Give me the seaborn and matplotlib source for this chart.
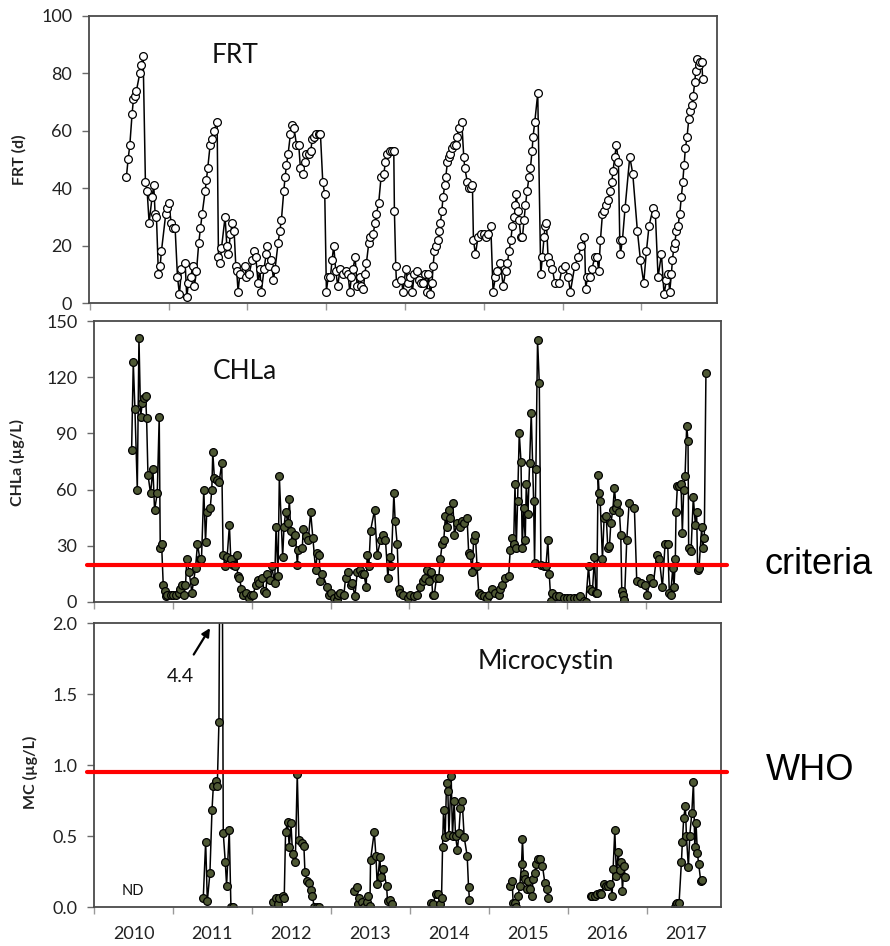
import numpy as np
import pandas as pd
import matplotlib
matplotlib.use("Agg")
import matplotlib.pyplot as plt
import seaborn as sns

# ---------------- data (decimal year, value) ----------------
frt_year = [
    2010.465, 2010.486, 2010.508, 2010.537, 2010.554, 2010.571, 2010.592, 2010.635, 2010.656, 2010.677,
    2010.706, 2010.728, 2010.753, 2010.791, 2010.812, 2010.829, 2010.846, 2010.871, 2010.893, 2010.909,
    2010.964, 2010.986, 2011.003, 2011.032, 2011.058, 2011.083, 2011.113, 2011.138, 2011.163, 2011.210,
    2011.231, 2011.252, 2011.282, 2011.307, 2011.328, 2011.354, 2011.383, 2011.404, 2011.426, 2011.464,
    2011.481, 2011.497, 2011.527, 2011.552, 2011.574, 2011.616, 2011.633, 2011.654, 2011.671, 2011.717,
    2011.739, 2011.756, 2011.785, 2011.810, 2011.832, 2011.853, 2011.865, 2011.882, 2011.904, 2011.967,
    2011.988, 2012.022, 2012.060, 2012.081, 2012.107, 2012.136, 2012.157, 2012.178, 2012.212, 2012.238,
    2012.255, 2012.276, 2012.305, 2012.331, 2012.352, 2012.390, 2012.411, 2012.432, 2012.462, 2012.479,
    2012.496, 2012.517, 2012.547, 2012.572, 2012.593, 2012.623, 2012.652, 2012.673, 2012.707, 2012.728,
    2012.750, 2012.779, 2012.805, 2012.822, 2012.851, 2012.876, 2012.906, 2012.927, 2012.957, 2012.982,
    2013.003, 2013.025, 2013.054, 2013.075, 2013.096, 2013.122, 2013.147, 2013.177, 2013.215, 2013.257,
    2013.278, 2013.299, 2013.321, 2013.342, 2013.367, 2013.393, 2013.426, 2013.448, 2013.473, 2013.490,
    2013.511, 2013.541, 2013.562, 2013.596, 2013.621, 2013.638, 2013.667, 2013.697, 2013.731, 2013.752,
    2013.777, 2013.807, 2013.837, 2013.858, 2013.866, 2013.883, 2013.892, 2013.955, 2013.976, 2014.010,
    2014.040, 2014.069, 2014.095, 2014.116, 2014.154, 2014.179, 2014.205, 2014.230, 2014.260, 2014.277,
    2014.298, 2014.323, 2014.344,
    2014.357, 2014.374, 2014.400, 2014.420, 2014.433, 2014.450, 2014.467, 2014.484, 2014.505, 2014.518,
    2014.539, 2014.560, 2014.577, 2014.598, 2014.619, 2014.645, 2014.662, 2014.683, 2014.721, 2014.746,
    2014.759, 2014.793, 2014.814, 2014.835, 2014.856, 2014.869, 2014.894, 2014.928, 2014.970, 2015.004,
    2015.034, 2015.059, 2015.089, 2015.118, 2015.148, 2015.173, 2015.212, 2015.245, 2015.279, 2015.300,
    2015.321, 2015.343, 2015.364, 2015.385, 2015.402, 2015.414, 2015.431, 2015.448, 2015.470, 2015.491,
    2015.512, 2015.529, 2015.550, 2015.575, 2015.592, 2015.613, 2015.626, 2015.647, 2015.685, 2015.723,
    2015.744, 2015.766, 2015.778, 2015.795, 2015.816, 2015.846, 2015.871, 2015.901, 2015.956, 2015.994,
    2016.028, 2016.070, 2016.100, 2016.155, 2016.197, 2016.239, 2016.278, 2016.294, 2016.316, 2016.345,
    2016.374, 2016.409, 2016.438, 2016.459, 2016.481, 2016.506, 2016.531, 2016.552, 2016.578, 2016.603,
    2016.624, 2016.641, 2016.662, 2016.684, 2016.709, 2016.726, 2016.734, 2016.760, 2016.793, 2016.853,
    2016.891, 2016.950, 2016.988, 2017.030, 2017.064, 2017.098, 2017.149, 2017.178, 2017.212, 2017.255,
    2017.288, 2017.318, 2017.339, 2017.360, 2017.381, 2017.394, 2017.411, 2017.424, 2017.445, 2017.466,
    2017.487, 2017.508, 2017.525, 2017.542, 2017.559, 2017.580, 2017.602, 2017.619, 2017.640, 2017.657,
    2017.678, 2017.690, 2017.712, 2017.728, 2017.750, 2017.766, 2017.779,
]
frt_days = [
    44, 50, 55, 66, 71, 72, 74, 80, 83, 86,
    42, 39, 28, 37, 41, 31, 30, 10, 13, 18,
    31, 33, 35, 28, 26, 26, 9, 3, 12, 14,
    2, 7, 9, 13, 6, 11, 21, 26, 31, 39,
    43, 47, 55, 57, 60, 63, 16, 14, 19, 30,
    20, 17, 24, 28, 25, 13, 11, 4, 10, 13,
    9, 10, 15, 18, 16, 7, 12, 4, 12, 17,
    20, 13, 15, 8, 12, 21, 25, 29, 39, 44,
    48, 52, 59, 62, 61, 55, 55, 47, 45, 49,
    52, 52, 53, 57, 58, 59, 59, 59, 42, 38,
    4, 9, 9, 15, 20, 11, 6, 12, 10, 11,
    10, 4, 9, 12, 16, 6, 9, 6, 5, 10,
    14, 21, 23, 24, 28, 31, 35, 44, 45, 49,
    52, 53, 53, 53, 32, 13, 7, 8, 4, 12,
    7, 9, 4, 10, 11, 8, 7, 7, 10, 4,
    10, 3, 7,
    13, 18, 20, 22, 25, 28, 32, 37, 41, 44,
    49, 51, 52, 54, 55, 55, 58, 61, 63, 51,
    47, 42, 40, 40, 41, 22, 17, 23, 24, 24,
    23, 24, 27, 4, 9, 11, 14, 6, 11, 14,
    18, 22, 27, 30, 34, 38, 32, 29, 23, 23,
    29, 34, 39, 44, 47, 53, 58, 63, 73, 10,
    16, 23, 27, 28, 16, 14, 12, 7, 7, 12,
    13, 9, 4, 13, 16, 20, 23, 5, 9, 9,
    12, 16, 16, 11, 22, 31, 32, 34, 36, 39,
    42, 46, 51, 55, 49, 22, 17, 22, 33, 51,
    45, 25, 15, 7, 18, 27, 33, 31, 9, 17,
    3, 8, 10, 4, 10, 15, 19, 21, 25, 27,
    31, 37, 42, 48, 54, 58, 64, 67, 69, 72,
    77, 81, 85, 83, 84, 84, 78,
]

chla_year = [
    2010.477, 2010.498, 2010.519, 2010.549, 2010.570, 2010.591, 2010.612, 2010.637, 2010.654, 2010.667,
    2010.684, 2010.717, 2010.747, 2010.768, 2010.802, 2010.827, 2010.840, 2010.857, 2010.878, 2010.895,
    2010.911, 2010.928, 2010.975, 2011.008, 2011.038, 2011.072, 2011.093, 2011.114, 2011.143, 2011.160,
    2011.177, 2011.207, 2011.241, 2011.262, 2011.287, 2011.312, 2011.342, 2011.363, 2011.392, 2011.414,
    2011.430, 2011.473, 2011.494, 2011.506, 2011.527, 2011.557, 2011.586, 2011.620, 2011.637, 2011.662,
    2011.688, 2011.717, 2011.734, 2011.759, 2011.789, 2011.814, 2011.820, 2011.844, 2011.869, 2011.890,
    2011.924, 2011.966, 2011.987, 2012.017, 2012.051, 2012.080, 2012.097, 2012.131, 2012.156, 2012.177,
    2012.198, 2012.232, 2012.253, 2012.291, 2012.308, 2012.333, 2012.350, 2012.392, 2012.409, 2012.430,
    2012.460, 2012.477, 2012.494, 2012.515, 2012.553, 2012.578, 2012.591, 2012.641, 2012.654, 2012.688,
    2012.717, 2012.747, 2012.776, 2012.810, 2012.831, 2012.857, 2012.866, 2012.895, 2012.958, 2012.979,
    2013.000, 2013.042, 2013.084, 2013.097, 2013.118, 2013.169, 2013.190, 2013.224, 2013.253, 2013.274,
    2013.308, 2013.338, 2013.371, 2013.401, 2013.422, 2013.451, 2013.464, 2013.485, 2013.506, 2013.557,
    2013.591, 2013.633, 2013.667, 2013.696, 2013.726, 2013.747, 2013.768, 2013.802, 2013.819, 2013.844,
    2013.865, 2013.886, 2013.916, 2013.979, 2014.013, 2014.055, 2014.097, 2014.135, 2014.173, 2014.203,
    2014.224, 2014.245, 2014.274, 2014.295, 2014.316, 2014.342, 2014.371, 2014.392, 2014.414, 2014.435,
    2014.456, 2014.477, 2014.498,
    2014.519, 2014.549, 2014.570, 2014.603, 2014.637, 2014.667, 2014.688, 2014.730, 2014.751, 2014.772,
    2014.793, 2014.814, 2014.835, 2014.857, 2014.878, 2014.907, 2014.941, 2014.983, 2015.004, 2015.046,
    2015.089, 2015.131, 2015.152, 2015.173, 2015.215, 2015.257, 2015.278, 2015.300, 2015.321, 2015.338,
    2015.354, 2015.371, 2015.392, 2015.414, 2015.430, 2015.447, 2015.468, 2015.481, 2015.502, 2015.523,
    2015.544, 2015.574, 2015.586, 2015.603, 2015.624, 2015.646, 2015.667, 2015.700, 2015.730, 2015.755,
    2015.772, 2015.793, 2015.810, 2015.852, 2015.899, 2015.954, 2015.996, 2016.038, 2016.080, 2016.122,
    2016.165, 2016.207, 2016.236, 2016.270, 2016.291, 2016.320, 2016.346, 2016.363, 2016.375, 2016.392,
    2016.405, 2016.418, 2016.447, 2016.468, 2016.494, 2016.515, 2016.536, 2016.553, 2016.578, 2016.599,
    2016.620, 2016.637, 2016.662, 2016.679, 2016.692, 2016.713, 2016.726, 2016.755, 2016.785, 2016.852,
    2016.882, 2016.937, 2016.987, 2017.016, 2017.051, 2017.093, 2017.135, 2017.168, 2017.207, 2017.241,
    2017.274, 2017.295, 2017.312, 2017.338, 2017.354, 2017.371, 2017.380, 2017.397, 2017.422, 2017.443,
    2017.460, 2017.477, 2017.494, 2017.515, 2017.532, 2017.540, 2017.570, 2017.599, 2017.625, 2017.641,
    2017.654, 2017.671, 2017.705, 2017.717, 2017.738, 2017.759,
]
chla_ugl = [
    81, 128, 103, 60, 141, 99, 106, 109, 110, 98,
    68, 58, 71, 49, 58, 99, 29, 31, 9, 6,
    3, 4, 4, 4, 4, 5, 7, 9, 4, 9,
    23, 16, 5, 11, 18, 31, 23, 23, 60, 32,
    48, 50, 60, 80, 66, 65, 64, 74, 25, 19,
    24, 41, 23, 20, 19, 25, 14, 13, 7, 4,
    5, 2, 4, 4, 9, 12, 10, 13, 6, 5,
    15, 12, 19, 10, 40, 14, 67, 24, 40, 48,
    42, 55, 38, 32, 36, 20, 28, 29, 39, 35,
    33, 48, 34, 17, 26, 25, 11, 15, 8, 4,
    5, 2, 1, 4, 5, 4, 13, 16, 9, 10,
    3, 16, 17, 15, 15, 8, 25, 19, 38, 49,
    25, 33, 36, 33, 13, 24, 19, 58, 43, 31,
    7, 5, 4, 2, 4, 3, 4, 8, 11, 13,
    17, 11, 16, 4, 4, 13, 13, 23, 31, 33,
    46, 40, 49,
    45, 53, 36, 42, 40, 43, 42, 45, 26, 25,
    16, 33, 36, 19, 5, 4, 3, 2, 4, 7,
    5, 4, 7, 9, 13, 14, 28, 34, 31, 63,
    29, 54, 90, 75, 29, 50, 33, 63, 47, 74,
    101, 54, 21, 71, 140, 117, 20, 19, 19, 33,
    15, 0.4, 5, 3, 3, 2, 2, 2, 2, 2,
    3, 0.4, 0, 19, 7, 6, 24, 5, 5, 68,
    58, 54, 23, 45, 46, 29, 30, 42, 49, 61,
    50, 53, 48, 36, 6, 4, 1, 33, 53, 50,
    11, 10, 9, 4, 13, 10, 25, 23, 8, 31,
    31, 5, 4, 18, 8, 23, 48, 62, 62, 63,
    37, 60, 67, 94, 86, 29, 27, 56, 41, 48,
    17, 18, 40, 29, 34, 122,
]

mc_year = [
    2011.384, 2011.414, 2011.435, 2011.468, 2011.494, 2011.511, 2011.540, 2011.561, 2011.582, 2011.612,
    2011.637, 2011.662, 2011.679, 2011.713, 2011.734, 2011.764,
    2012.270, 2012.300, 2012.325, 2012.346, 2012.388, 2012.409, 2012.426, 2012.451, 2012.473, 2012.494,
    2012.515, 2012.549, 2012.574, 2012.595, 2012.629, 2012.658, 2012.671, 2012.700, 2012.722, 2012.743,
    2012.764, 2012.789, 2012.819, 2012.848,
    2013.295, 2013.325, 2013.338, 2013.354, 2013.388, 2013.418, 2013.451, 2013.473, 2013.494, 2013.502,
    2013.549, 2013.570, 2013.586, 2013.620, 2013.633, 2013.662, 2013.705, 2013.717, 2013.747, 2013.768,
    2014.266, 2014.295, 2014.325, 2014.359, 2014.380, 2014.401, 2014.414, 2014.426, 2014.447, 2014.464,
    2014.481, 2014.494, 2014.523, 2014.540, 2014.561, 2014.578, 2014.603, 2014.620, 2014.641, 2014.662,
    2014.688, 2014.726, 2014.743, 2014.755,
    2015.274, 2015.295, 2015.308, 2015.329, 2015.350, 2015.371, 2015.392, 2015.414, 2015.426, 2015.443,
    2015.464, 2015.485, 2015.502, 2015.519, 2015.544, 2015.561, 2015.582, 2015.603, 2015.624, 2015.646,
    2015.679, 2015.709, 2015.734, 2015.751,
    2016.291, 2016.312, 2016.342, 2016.371, 2016.405, 2016.426, 2016.456, 2016.490, 2016.510, 2016.540,
    2016.561, 2016.574, 2016.595, 2016.616, 2016.637, 2016.658, 2016.679, 2016.692, 2016.709, 2016.730,
    2017.354, 2017.367, 2017.388, 2017.409, 2017.439, 2017.451, 2017.468, 2017.489, 2017.502, 2017.527,
    2017.544, 2017.570, 2017.591, 2017.608, 2017.624, 2017.641, 2017.658, 2017.684, 2017.696,
]
mc_ugl = [
    0.066, 0.46, 0.04, 0.24, 0.68, 0.85, 0.89, 0.85, 1.30, 4.4,
    0.52, 0.32, 0.15, 0.54, 0.0, 0.0,
    0.035, 0.06, 0.02, 0.066, 0.08, 0.066, 0.53, 0.60, 0.42, 0.59,
    0.37, 0.32, 0.94, 0.47, 0.45, 0.43, 0.25, 0.18, 0.17, 0.12,
    0.08, 0.0, 0.0, 0.0,
    0.11, 0.14, 0.02, 0.06, 0.035, 0.0, 0.035, 0.075, 0.01, 0.33,
    0.53, 0.36, 0.16, 0.35, 0.21, 0.27, 0.15, 0.04, 0.05, 0.02,
    0.03, 0.02, 0.09, 0.09, 0.02, 0.066, 0.42, 0.68, 0.49, 0.87,
    0.82, 0.51, 0.92, 0.50, 0.75, 0.50, 0.40, 0.52, 0.70, 0.75,
    0.49, 0.36, 0.14, 0.05,
    0.15, 0.18, 0.03, 0.03, 0.0, 0.08, 0.15, 0.30, 0.48, 0.23,
    0.20, 0.13, 0.18, 0.13, 0.08, 0.20, 0.24, 0.30, 0.34, 0.34,
    0.29, 0.17, 0.13, 0.066,
    0.08, 0.08, 0.08, 0.09, 0.10, 0.09, 0.16, 0.15, 0.15, 0.16,
    0.08, 0.27, 0.54, 0.22, 0.39, 0.26, 0.32, 0.11, 0.29, 0.21,
    0.0, 0.02, 0.03, 0.03, 0.32, 0.46, 0.63, 0.71, 0.50, 0.28,
    0.50, 0.66, 0.88, 0.42, 0.59, 0.38, 0.30, 0.18, 0.19,
]

year_labels = ["2010", "2011", "2012", "2013", "2014", "2015", "2016", "2017"]
CHLA_CRITERIA = 20      # µg/L
MC_WHO = 0.95           # µg/L (line as drawn)
MC_PEAK_LABEL = "4.4"

# ---------------- style ----------------
sns.set_style("ticks")
plt.rcParams["font.family"] = ["Lato", "DejaVu Sans"]

frt = pd.DataFrame({"year": frt_year, "FRT": frt_days})
chla = pd.DataFrame({"year": chla_year, "CHLa": chla_ugl})
mc = pd.DataFrame({"year": mc_year, "MC": mc_ugl})
mc["season"] = np.floor(mc["year"]).astype(int)

W, H = 890, 946
fig = plt.figure(figsize=(W / 100, H / 100), dpi=100)


def px_axes(l, t, r, b):
    return fig.add_axes([l / W, 1 - b / H, (r - l) / W, (b - t) / H])


ax1 = px_axes(89, 16, 717, 303)
ax2 = px_axes(94, 321, 721, 602)
ax3 = px_axes(94, 623, 721, 907)

olive = "#4e5834"
line_kw = dict(color="black", linewidth=1.1, estimator=None, sort=False,
               marker="o", markersize=5.6, markeredgewidth=0.9,
               markeredgecolor="black", legend=False)

sns.lineplot(data=frt, x="year", y="FRT", ax=ax1, markerfacecolor="white", **line_kw)
sns.lineplot(data=chla, x="year", y="CHLa", ax=ax2, markerfacecolor=olive, **line_kw)
sns.lineplot(data=mc, x="year", y="MC", units="season", ax=ax3,
             markerfacecolor=olive, **line_kw)

ax1.set_xlim(2009.99, 2017.96)
ax2.set_xlim(2010.01, 2017.95)
ax3.set_xlim(2010.0, 2017.94)
ax1.set_ylim(0, 100)
ax2.set_ylim(0, 150)
ax3.set_ylim(0, 2.0)
ax1.set_yticks([0, 20, 40, 60, 80, 100])
ax2.set_yticks([0, 30, 60, 90, 120, 150])
ax3.set_yticks([0, 0.5, 1.0, 1.5, 2.0])
ax3.set_yticklabels(["0.0", "0.5", "1.0", "1.5", "2.0"])

years = np.arange(2010, 2018)
for ax in (ax1, ax2, ax3):
    ax.set_xticks(years)
    ax.set_xticklabels([])
    for s in ax.spines.values():
        s.set_visible(True)
        s.set_color("#4a4a4a")
        s.set_linewidth(1.3)
    ax.tick_params(axis="x", which="major", length=5, width=1, color="#9a9a9a")
    ax.tick_params(axis="y", which="major", length=5, width=1, color="#6a6a6a",
                   labelsize=13, pad=7, labelcolor="#222222")
    ax.set_xlabel("")

ax3.set_xticks(years + 0.5, minor=True)
ax3.set_xticklabels(year_labels, minor=True)
ax3.tick_params(axis="x", which="minor", length=0, labelsize=13, pad=14,
                labelcolor="#222222")

lab_kw = dict(fontsize=11.5, fontweight="bold", color="#222222")
ax1.set_ylabel("FRT (d)", **lab_kw)
ax2.set_ylabel("CHLa (µg/L)", **lab_kw)
ax3.set_ylabel("MC (µg/L)", **lab_kw)
ax1.yaxis.set_label_coords(-0.099, 0.5)
ax2.yaxis.set_label_coords(-0.110, 0.495)
ax3.yaxis.set_label_coords(-0.089, 0.475)

# panel titles
ax1.text(0.232, 0.864, "FRT", transform=ax1.transAxes, ha="center", va="center",
         fontsize=19, color="#111111")
ax2.text(0.241, 0.819, "CHLa", transform=ax2.transAxes, ha="center", va="center",
         fontsize=19, color="#111111")
ax3.text(0.721, 0.863, "Microcystin", transform=ax3.transAxes, ha="center",
         va="center", fontsize=19, color="#111111")
ax3.text(0.062, 0.056, "ND", transform=ax3.transAxes, ha="center", va="center",
         fontsize=10.5, color="#111111")
ax3.annotate(MC_PEAK_LABEL, xy=(0.185, 0.982), xycoords="axes fraction",
             xytext=(0.137, 0.81), textcoords="axes fraction",
             ha="center", va="center", fontsize=14, color="#111111",
             arrowprops=dict(arrowstyle="-|>", color="black", lw=1.6,
                             mutation_scale=12, shrinkA=9, shrinkB=0))

# threshold lines extending past the right edge
ax2.axhline(CHLA_CRITERIA, xmin=-0.011, xmax=1.0096, color="#ff0000", lw=3,
            clip_on=False, zorder=5)
ax3.axhline(MC_WHO, xmin=-0.011, xmax=1.0096, color="#ff0000", lw=3,
            clip_on=False, zorder=5)
ax2.text(1.155, 0.135, "criteria", transform=ax2.transAxes, ha="center",
         va="center", fontsize=26, family="Liberation Sans", color="black")
ax3.text(1.142, 0.479, "WHO", transform=ax3.transAxes, ha="center",
         va="center", fontsize=26, family="Liberation Sans", color="black")

fig.savefig("out.png", dpi=100, facecolor="white")
